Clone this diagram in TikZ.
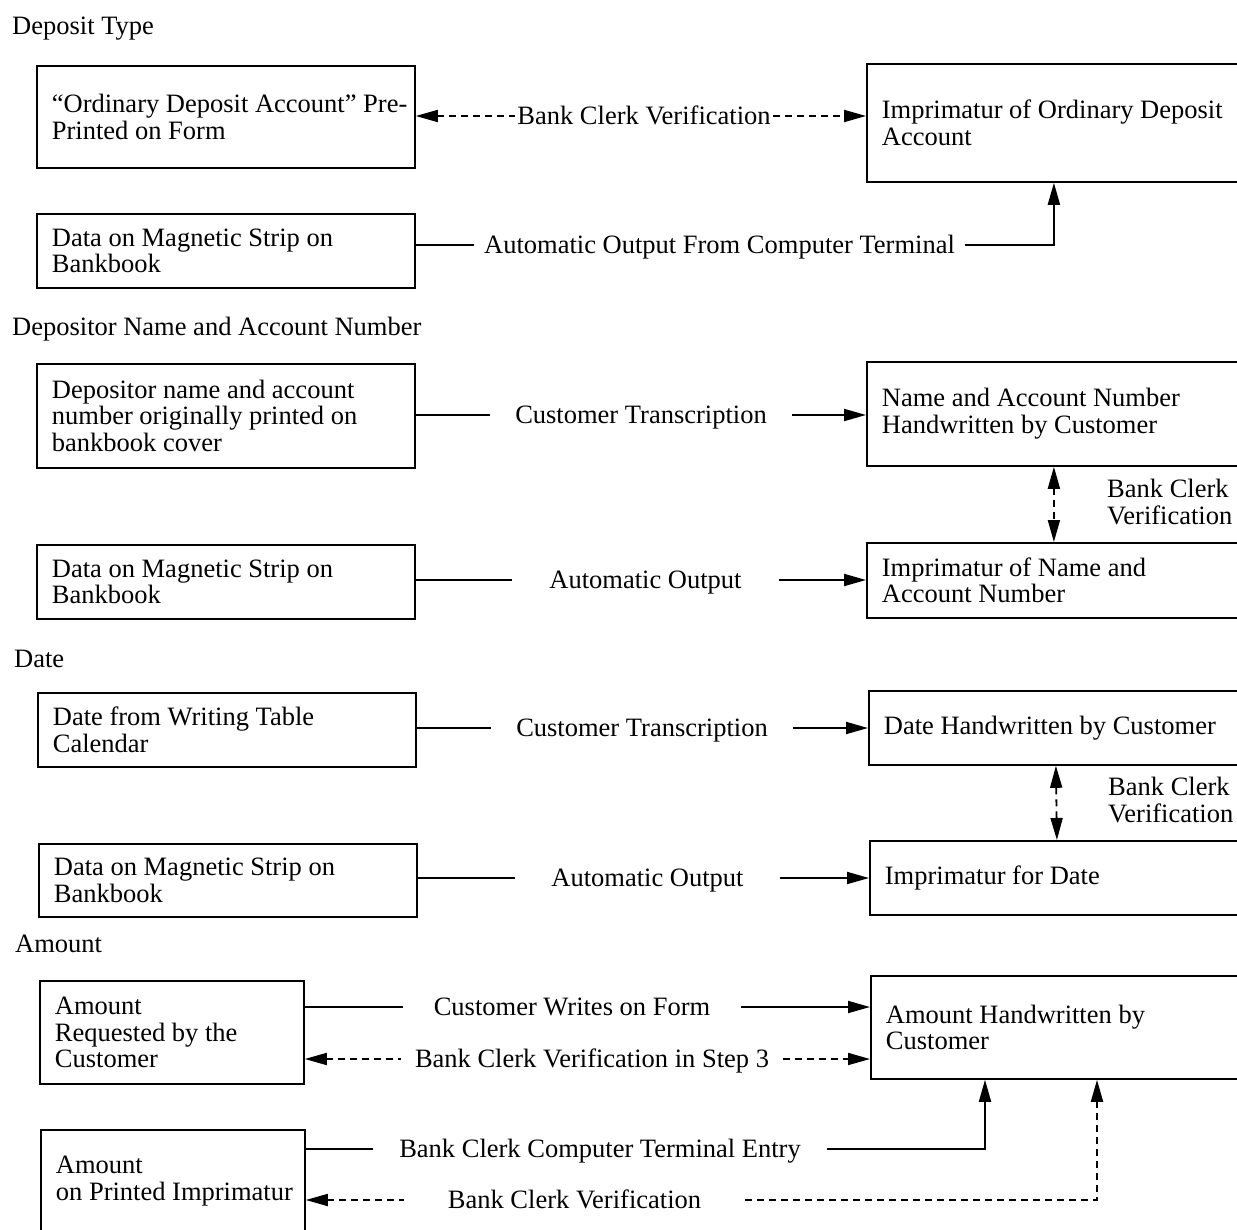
\documentclass[tikz,border=0pt]{standalone}
\usepackage{fontspec}
\setmainfont{Liberation Serif}
\usetikzlibrary{arrows.meta,calc}

\begin{document}
\begin{tikzpicture}[x=1pt,y=-1pt,
  >={Triangle[length=22pt,width=12pt]},
  every node/.style={font=\fontsize{26.5}{26.5}\selectfont, inner sep=0pt},
  srcbox/.style={draw, line width=1.8pt, anchor=north west, align=flush left,
    inner xsep=15pt, inner ysep=0pt, text width=348pt, minimum height=#1},
  amtbox/.style={srcbox=#1, text width=234pt},
  dstbox/.style={srcbox=#1, text width=344pt},
  lab/.style={text height=17.5pt, text depth=0pt, inner xsep=#1},
  sline/.style={line width=1.8pt},
  dline/.style={line width=1.8pt, dash pattern=on 7pt off 5pt},
]
\useasboundingbox (0,0) rectangle (1237,1230);

% section headings
\node[anchor=base west] (hType)   at (12,35)  {Deposit Type};
\node[anchor=base west] (hName)   at (12,336) {Depositor Name and Account Number};
\node[anchor=base west] (hDate)   at (14,667) {Date};
\node[anchor=base west] (hAmount) at (15,952) {Amount};

% source boxes (left column)
\node[srcbox=102pt] (b1) at (36,65)  {\mbox{“Ordinary Deposit Account” Pre-}\\Printed on Form};
\node[srcbox=74pt]  (b2) at (36,213) {Data on Magnetic Strip on\\Bankbook};
\node[srcbox=104pt] (b3) at (36,363) {Depositor name and account\\number originally printed on\\bankbook cover};
\node[srcbox=74pt]  (b4) at (36,544) {Data on Magnetic Strip on\\Bankbook};
\node[srcbox=74pt]  (b5) at (37,692) {Date from Writing Table\\Calendar};
\node[srcbox=73pt]  (b6) at (38,843) {Data on Magnetic Strip on\\Bankbook};
\node[amtbox=103pt] (b7) at (39,980) {Amount\\Requested by the\\Customer};
\node[amtbox=102pt] (b8) at (40,1129) {Amount\\\mbox{on Printed Imprimatur}};

% destination boxes (right column)
\node[dstbox=118pt] (r1) at (866,63)  {\mbox{Imprimatur of Ordinary Deposit}\\Account};
\node[dstbox=104pt] (r2) at (866,361) {Name and Account Number\\Handwritten by Customer};
\node[dstbox=75pt]  (r3) at (866,542) {Imprimatur of Name and\\Account Number};
\node[dstbox=74pt]  (r4) at (868,690) {Date Handwritten by Customer};
\node[dstbox=74pt]  (r5) at (869,840) {Imprimatur for Date};
\node[dstbox=103pt] (r6) at (870,975) {Amount Handwritten by\\Customer};

% connector labels
\node[lab=2pt]  (l1)  at (644,116)   {Bank Clerk Verification};
\node[lab=10pt] (l2)  at (719.5,245) {Automatic Output From Computer Terminal};
\node[lab=25pt] (l3)  at (641,415)   {Customer Transcription};
\node[lab=37pt] (l4)  at (645.5,580) {Automatic Output};
\node[lab=25pt] (l5)  at (642,728)   {Customer Transcription};
\node[lab=36pt] (l6)  at (647.5,878) {Automatic Output};
\node[lab=31pt] (l7a) at (572,1007)  {Customer Writes on Form};
\node[lab=14pt] (l7b) at (592,1059)  {Bank Clerk Verification in Step 3};
\node[lab=26pt] (l8a) at (600,1149)  {Bank Clerk Computer Terminal Entry};
\node[lab=44pt] (l8b) at (574.5,1200) {Bank Clerk Verification};

\node[anchor=north west, align=flush left] (v1) at (1107,479) {Bank Clerk\\Verification};
\node[anchor=north west, align=flush left] (v2) at (1108,777) {Bank Clerk\\Verification};

% entry points on the bottom of the amount box
\coordinate (r6a) at ($(r6.south west)+(115,0)$);
\coordinate (r6b) at ($(r6.south west)+(227,0)$);

% deposit type
\draw[dline,<-] (b1.east |- l1) -- (l1.west);
\draw[dline,->] (l1.east) -- (r1.west |- l1);
\draw[sline] (b2.east |- l2) -- (l2.west);
\draw[sline,->] (l2.east) -| (r1.south);

% depositor name and account number
\draw[sline] (b3.east |- l3) -- (l3.west);
\draw[sline,->] (l3.east) -- (r2.west |- l3);
\draw[sline] (b4.east |- l4) -- (l4.west);
\draw[sline,->] (l4.east) -- (r3.west |- l4);
\draw[dline,<->] (r2.south) -- (r3.north);

% date
\draw[sline] (b5.east |- l5) -- (l5.west);
\draw[sline,->] (l5.east) -- (r4.west |- l5);
\draw[sline] (b6.east |- l6) -- (l6.west);
\draw[sline,->] (l6.east) -- (r5.west |- l6);
\draw[dline,<->] (r4.south) -- (r5.north);

% amount
\draw[sline] (b7.east |- l7a) -- (l7a.west);
\draw[sline,->] (l7a.east) -- (r6.west |- l7a);
\draw[dline,<-] (b7.east |- l7b) -- (l7b.west);
\draw[dline,->] (l7b.east) -- (r6.west |- l7b);
\draw[sline] (b8.east |- l8a) -- (l8a.west);
\draw[sline,->] (l8a.east) -| (r6a);
\draw[dline,<-] (b8.east |- l8b) -- (l8b.west);
\draw[dline,->] (l8b.east) -| (r6b);
\end{tikzpicture}
\end{document}
